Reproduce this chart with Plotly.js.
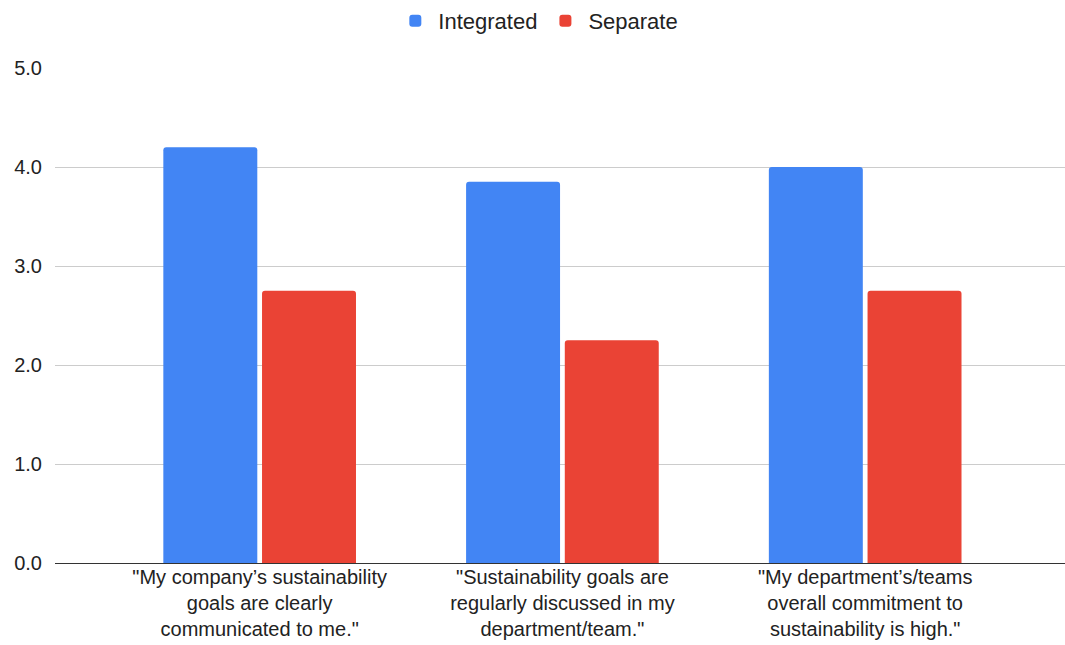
<!DOCTYPE html>
<html>
<head>
<meta charset="utf-8">
<script src="https://cdn.plot.ly/plotly-3.0.1.min.js"></script>
<style>html,body{margin:0;padding:0;background:#fff;}#chart{width:1065px;height:645px;}</style>
</head>
<body>
<div id="chart"></div>
<script>
var categories = [
  '"My company\u2019s sustainability<br>goals are clearly<br>communicated to me."',
  '"Sustainability goals are<br>regularly discussed in my<br>department/team."',
  '"My department\u2019s/teams<br>overall commitment to<br>sustainability is high."'
];
var seriesNames = ['Integrated', 'Separate'];
var seriesColors = ['#4285F4', '#EA4335'];
var integrated = [4.2, 3.85, 4.0];
var separate = [2.75, 2.25, 2.75];
var yTicks = [0, 1, 2, 3, 4, 5];

var idx = categories.map(function(_, i){ return i; });
var seriesValues = [integrated, separate];

var traces = seriesValues.map(function(vals, k){
  return {type: 'bar', name: seriesNames[k], x: idx, y: vals,
    marker: {color: seriesColors[k]}, hoverinfo: 'y'};
});

var layout = {
  width: 1065, height: 645,
  margin: {l: 55, r: 0, t: 68, b: 82},
  paper_bgcolor: '#fff', plot_bgcolor: '#fff',
  font: {family: 'Liberation Sans, Arial, sans-serif', size: 20, color: '#222'},
  barmode: 'group',
  bargap: 0.348,
  bargroupgap: 0.048,
  barcornerradius: 3,
  showlegend: true,
  legend: {orientation: 'h', xref: 'container', yref: 'container', x: 0.505, xanchor: 'center',
    y: 1.0, yanchor: 'top', itemwidth: 36, font: {size: 22, color: '#222'}},
  xaxis: {
    tickmode: 'array', tickvals: idx, ticktext: categories, automargin: false,
    range: [-0.676, 2.66], showgrid: false, zeroline: false,
    showline: false, ticks: '', tickfont: {size: 20, color: '#222'}
  },
  yaxis: {
    range: [0, 5], tickmode: 'array', tickvals: yTicks, tickformat: '.1f', automargin: false,
    showgrid: true, gridcolor: '#cccccc', gridwidth: 1,
    zeroline: true, zerolinecolor: '#333333', zerolinewidth: 1,
    ticks: '', tickfont: {size: 20, color: '#222'}, ticklabelstandoff: 12
  }
};

Plotly.newPlot('chart', traces, layout, {displayModeBar: false, staticPlot: true});
</script>
</body>
</html>
